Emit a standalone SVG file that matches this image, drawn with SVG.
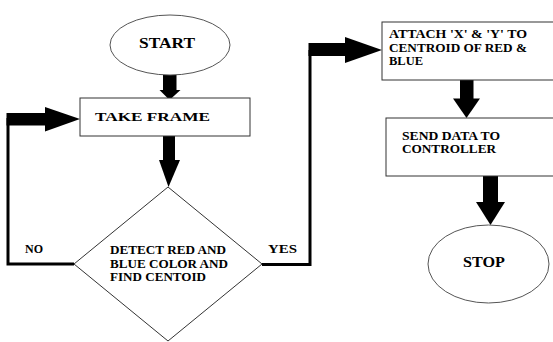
<svg xmlns="http://www.w3.org/2000/svg" width="553" height="342" viewBox="0 0 553 342">
<style>
.box{fill:#fff;stroke:#333;stroke-width:1}
.oval{fill:#fff;stroke:#555;stroke-width:1}
.t{font-family:"Liberation Serif","DejaVu Serif","Times New Roman",serif;font-weight:bold;fill:#000}
.big{font-size:15px}
.mid{font-size:13.5px}
.sm{font-size:12.5px}
.line{fill:none;stroke:#000;stroke-width:3}
.arr{fill:#000;stroke:none}
</style>
<rect width="553" height="342" fill="#fff"/>
<g id="connectors">
<rect class="arr" x="163" y="75" width="13.5" height="15"/>
<polygon class="arr" points="159.5,90 180.5,90 169.5,100"/>
<rect class="arr" x="163" y="136" width="12" height="24"/>
<polygon class="arr" points="159,160 180,160 168.5,187"/>
<polyline class="line" points="74,264 8,264 8,118"/>
<rect class="arr" x="6.5" y="113" width="39" height="12.5"/>
<polygon class="arr" points="45,107 45,131.5 80,119"/>
<polyline class="line" points="262,264.5 310,264.5 310,50"/>
<rect class="arr" x="308.5" y="43" width="37" height="13"/>
<polygon class="arr" points="345,37 345,63 382,50"/>
<rect class="arr" x="460" y="80" width="13.5" height="19"/>
<polygon class="arr" points="453,98.5 480,98.5 466.5,118"/>
<rect class="arr" x="483" y="176" width="15" height="26"/>
<polygon class="arr" points="476,202 505,202 490.5,225"/>
</g>
<g id="start">
<ellipse class="oval" cx="170" cy="45" rx="60" ry="30"/>
<text class="t big" x="139" y="48" textLength="56" lengthAdjust="spacingAndGlyphs">START</text>
</g>
<g id="take-frame">
<rect class="box" x="80" y="98" width="170" height="38"/>
<text class="t mid" x="95" y="121" textLength="115" lengthAdjust="spacingAndGlyphs">TAKE FRAME</text>
</g>
<g id="detect">
<polygon class="box" points="168,187 262,264 168,341 74,264"/>
<text class="t sm" x="110" y="254" textLength="116" lengthAdjust="spacingAndGlyphs">DETECT RED AND</text>
<text class="t sm" x="110" y="267.5" textLength="118" lengthAdjust="spacingAndGlyphs">BLUE COLOR AND</text>
<text class="t sm" x="110" y="281" textLength="96" lengthAdjust="spacingAndGlyphs">FIND CENTOID</text>
</g>
<g id="no-label">
<text class="t sm" x="25" y="253" textLength="18" lengthAdjust="spacingAndGlyphs">NO</text>
</g>
<g id="yes-label">
<text class="t sm" x="268" y="253" textLength="29" lengthAdjust="spacingAndGlyphs">YES</text>
</g>
<g id="attach">
<rect class="box" x="382" y="22" width="180" height="58"/>
<text class="t sm" x="389" y="38" textLength="138" lengthAdjust="spacingAndGlyphs">ATTACH 'X' &amp; 'Y' TO</text>
<text class="t sm" x="389" y="52" textLength="138" lengthAdjust="spacingAndGlyphs">CENTROID OF RED &amp;</text>
<text class="t sm" x="389" y="65" textLength="34" lengthAdjust="spacingAndGlyphs">BLUE</text>
</g>
<g id="send">
<rect class="box" x="386" y="118" width="180" height="58"/>
<text class="t sm" x="402" y="140" textLength="98" lengthAdjust="spacingAndGlyphs">SEND DATA TO</text>
<text class="t sm" x="402" y="153" textLength="94" lengthAdjust="spacingAndGlyphs">CONTROLLER</text>
</g>
<g id="stop">
<ellipse class="oval" cx="488.5" cy="264" rx="60.5" ry="39"/>
<text class="t big" x="463" y="267" textLength="42" lengthAdjust="spacingAndGlyphs">STOP</text>
</g>
</svg>
